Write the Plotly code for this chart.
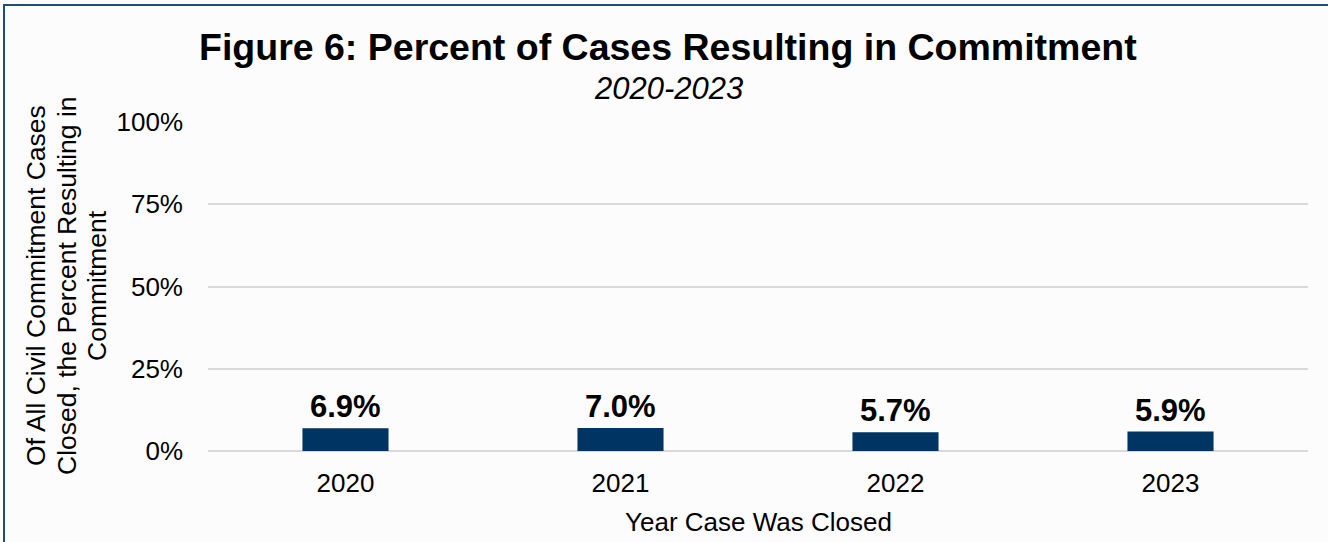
import plotly.graph_objects as go

years = ["2020", "2021", "2022", "2023"]
pct_commitment = [0.069, 0.070, 0.057, 0.059]
label_text = ["6.9%", "7.0%", "5.7%", "5.9%"]
y_ticks = [0, 0.25, 0.5, 0.75, 1.0]
y_tick_text = ["0%", "25%", "50%", "75%", "100%"]

title_text = "Figure 6: Percent of Cases Resulting in Commitment"
subtitle_text = "2020-2023"
x_title = "Year Case Was Closed"
y_title_lines = ["Of All Civil Commitment Cases", "Closed, the Percent Resulting in", "Commitment"]

FONT = "Liberation Sans, Arial, sans-serif"
BAR = "#003462"
GRID = "#d9d9d9"
BG = "#fcfcfc"

W, H = 1328, 542
L, R, T, B = 208, 20, 122, 91
pw, ph = W - L - R, H - T - B

fig = go.Figure()
fig.add_trace(go.Bar(
    x=years, y=pct_commitment, marker=dict(color=BAR, line=dict(width=0)),
    hoverinfo="skip",
))

annotations = []
for i, (v, t) in enumerate(zip(pct_commitment, label_text)):
    annotations.append(dict(
        x=i, y=v, xref="x", yref="y", text=f"<b>{t}</b>", showarrow=False,
        yanchor="bottom", yshift=2, font=dict(family=FONT, size=31, color="#000000"),
    ))

def px_x(p):
    return (p - L) / pw

def px_y(p):
    return (H - B - p) / ph

annotations.append(dict(
    x=px_x(668), y=px_y(47), xref="paper", yref="paper", text=f"<b>{title_text}</b>",
    showarrow=False, xanchor="center", yanchor="middle",
    font=dict(family=FONT, size=37.5, color="#000000"),
))
annotations.append(dict(
    x=px_x(668), y=px_y(89), xref="paper", yref="paper", text=f"<i>{subtitle_text}</i>",
    showarrow=False, xanchor="center", yanchor="middle",
    font=dict(family=FONT, size=31, color="#000000"),
))
annotations.append(dict(
    x=px_x(758), y=px_y(522), xref="paper", yref="paper", text=x_title,
    showarrow=False, xanchor="center", yanchor="middle",
    font=dict(family=FONT, size=26, color="#000000"),
))
for xc, line in zip([36, 67, 97], y_title_lines):
    annotations.append(dict(
        x=px_x(xc), y=px_y(286), xref="paper", yref="paper", text=line,
        showarrow=False, xanchor="center", yanchor="middle", textangle=-90,
        font=dict(family=FONT, size=26.5, color="#000000"),
    ))

fig.update_layout(
    width=W, height=H,
    margin=dict(l=L, r=R, t=T, b=B, pad=0),
    paper_bgcolor=BG, plot_bgcolor=BG,
    showlegend=False,
    bargap=0.687,
    font=dict(family=FONT, size=26, color="#000000"),
    annotations=annotations,
    shapes=[dict(
        type="rect", xref="paper", yref="paper",
        x0=px_x(4), x1=px_x(1400), y0=px_y(700), y1=px_y(5),
        line=dict(color="#1f4e79", width=2), fillcolor="rgba(0,0,0,0)", layer="below",
    )],
)
fig.update_xaxes(
    type="category", range=[-0.5, len(years) - 0.5],
    showgrid=False, showline=False, zeroline=False, ticks="",
    tickfont=dict(family=FONT, size=26, color="#000000"), ticklabelstandoff=14,
    fixedrange=True,
)
fig.update_yaxes(
    range=[0, 1], tickvals=y_ticks, ticktext=y_tick_text,
    showgrid=True, gridcolor=GRID, gridwidth=1.6,
    zeroline=True, zerolinecolor=GRID, zerolinewidth=1.6,
    showline=False, ticks="", ticklabelstandoff=24,
    tickfont=dict(family=FONT, size=26, color="#000000"),
    fixedrange=True,
)

fig.write_html(
    "out.html",
    config={"displayModeBar": False},
    post_script="document.body.style.margin='0';document.body.style.overflow='hidden';",
)
